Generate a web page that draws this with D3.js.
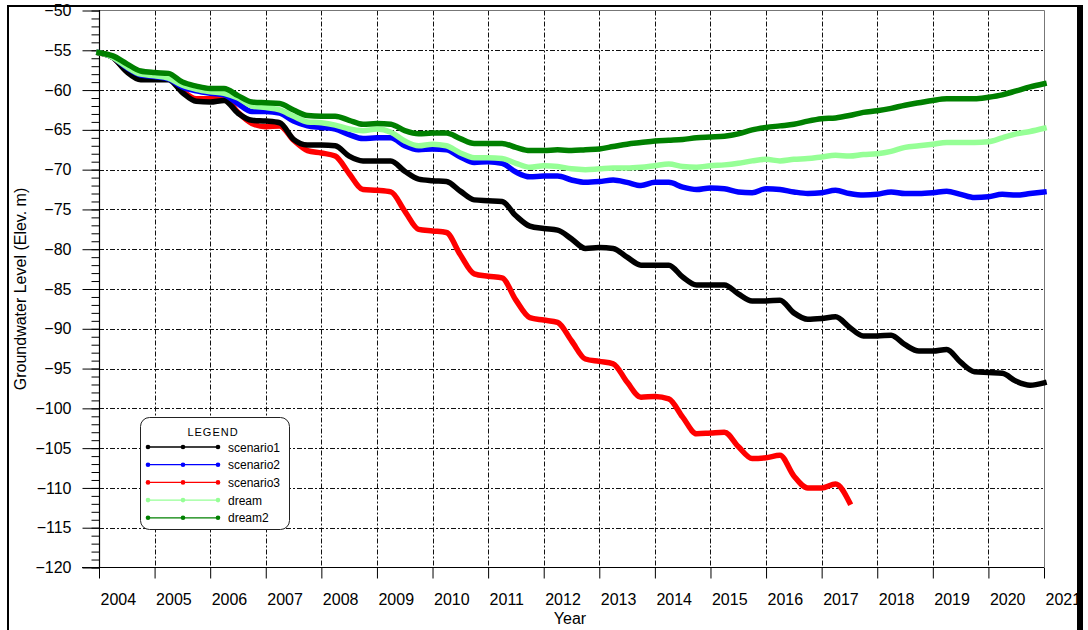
<!DOCTYPE html>
<html>
<head>
<meta charset="utf-8">
<script src="https://cdn.jsdelivr.net/npm/d3@7"></script>
<style>
  body { margin: 0; background: #fff; }
  svg { display: block; font-family: "Liberation Sans", Arial, sans-serif; }
</style>
</head>
<body>
<svg id="chart" width="1088" height="630"></svg>
<script>
// values, one point per quarter from 2004.0
var yearTicks = [2004, 2005, 2006, 2007, 2008, 2009, 2010, 2011, 2012, 2013, 2014, 2015, 2016, 2017, 2018, 2019, 2020, 2021]
var levelTicks = [-120, -115, -110, -105, -100, -95, -90, -85, -80, -75, -70, -65, -60, -55, -50]

var scenario1 = [-55.3, -55.9, -57.7, -58.7, -58.7, -58.7, -60.3, -61.4, -61.5, -61.3, -62.9, -63.8, -63.9, -64.1, -66.2, -66.9,
  -66.9, -67.0, -68.3, -68.9, -68.9, -68.9, -70.2, -71.2, -71.4, -71.5, -72.7, -73.8, -73.9, -74.0, -75.8, -77.1,
  -77.4, -77.6, -78.7, -79.9, -79.8, -79.9, -81.0, -82.0, -82.0, -82.0, -83.5, -84.5, -84.5, -84.5, -85.6, -86.5,
  -86.5, -86.4, -88.0, -88.8, -88.7, -88.5, -89.8, -90.9, -90.9, -90.8, -92.0, -92.8, -92.8, -92.6, -94.2, -95.4,
  -95.5, -95.6, -96.6, -97.1, -96.8]
var scenario2 = [-55.3, -55.9, -57.2, -58.1, -58.3, -58.6, -59.6, -60.1, -60.4, -60.6, -61.7, -62.7, -62.7, -62.9, -63.9, -64.5,
  -64.7, -64.9, -65.6, -66.1, -66.0, -66.0, -67.0, -67.5, -67.4, -67.5, -68.4, -69.1, -69.0, -69.2, -70.3, -70.9,
  -70.8, -70.8, -71.3, -71.6, -71.5, -71.3, -71.6, -72.0, -71.6, -71.6, -72.2, -72.5, -72.3, -72.4, -72.8, -72.9,
  -72.4, -72.5, -72.8, -73.0, -72.9, -72.6, -73.0, -73.2, -73.1, -72.8, -73.0, -73.0, -72.9, -72.7, -73.1, -73.5,
  -73.4, -73.1, -73.2, -73.0, -72.8]
var scenario3 = [-55.3, -55.9, -57.6, -58.6, -58.6, -58.6, -60.1, -61.1, -61.1, -60.9, -62.8, -64.2, -64.6, -64.5, -66.3, -67.6,
  -67.9, -68.3, -70.5, -72.5, -72.6, -72.8, -75.2, -77.5, -77.7, -77.9, -80.7, -83.1, -83.4, -83.6, -86.4, -88.6,
  -88.9, -89.2, -91.5, -93.8, -94.1, -94.4, -96.7, -98.6, -98.5, -98.8, -101.1, -103.2, -103.1, -103.0, -104.8, -106.3,
  -106.2, -105.9, -108.5, -110.0, -110.0, -109.5, -111.8]
var dream = [-55.3, -55.9, -57.1, -58.0, -58.2, -58.5, -59.4, -59.9, -60.2, -60.4, -61.0, -62.0, -62.2, -62.5, -63.3, -64.0,
  -64.1, -64.4, -64.9, -65.1, -64.9, -65.3, -66.4, -67.0, -66.8, -67.0, -67.9, -68.5, -68.5, -68.6, -69.2, -69.7,
  -69.5, -69.6, -69.9, -70.0, -69.9, -69.8, -69.8, -69.7, -69.5, -69.3, -69.6, -69.7, -69.5, -69.4, -69.2, -68.9,
  -68.7, -68.9, -68.7, -68.6, -68.4, -68.2, -68.3, -68.1, -68.0, -67.7, -67.2, -67.0, -66.8, -66.6, -66.6, -66.6,
  -66.5, -66.0, -65.5, -65.2, -64.8]
var dream2 = [-55.3, -55.7, -56.7, -57.6, -57.8, -57.9, -59.0, -59.5, -59.8, -59.8, -60.7, -61.5, -61.6, -61.7, -62.5, -63.2,
  -63.3, -63.3, -63.8, -64.3, -64.2, -64.3, -65.1, -65.5, -65.4, -65.4, -66.1, -66.7, -66.7, -66.7, -67.2, -67.6,
  -67.6, -67.5, -67.6, -67.5, -67.4, -67.1, -66.8, -66.6, -66.4, -66.3, -66.2, -66.0, -65.9, -65.8, -65.5, -65.0,
  -64.7, -64.5, -64.3, -63.9, -63.6, -63.5, -63.2, -62.8, -62.6, -62.3, -61.9, -61.6, -61.3, -61.1, -61.1, -61.1,
  -60.9, -60.6, -60.1, -59.6, -59.2]

var seriesNames = ['scenario1', 'scenario2', 'scenario3', 'dream', 'dream2']
var seriesColors = ['#000000', '#0000ff', '#ff0000', '#96ff96', '#008000']
var seriesValues = [scenario1, scenario2, scenario3, dream, dream2]

svg = d3.select('#chart')

x = d3.scaleLinear().domain([2004, 2021]).range([99, 1044])
y = d3.scaleLinear().domain([-120, -50]).range([567.5, 10.5])

// grid
grid = svg.append('g')
grid.selectAll('.hgrid').data(levelTicks.slice(1, -1))
  .enter().append('line')
  .attr('x1', 99).attr('x2', 1044)
  .attr('y1', function(d){ return Math.round(y(d)) + 0.5 })
  .attr('y2', function(d){ return Math.round(y(d)) + 0.5 })
  .attr('stroke', '#111').attr('stroke-width', 1)
  .attr('stroke-dasharray', '5,2,2,2')
grid.selectAll('.vgrid').data(yearTicks.slice(1, -1))
  .enter().append('line')
  .attr('y1', 10.5).attr('y2', 567)
  .attr('x1', function(d){ return Math.round(x(d)) + 0.5 })
  .attr('x2', function(d){ return Math.round(x(d)) + 0.5 })
  .attr('stroke', '#111').attr('stroke-width', 1)
  .attr('stroke-dasharray', '5,2,2,2')

// plot border top / right
svg.append('path')
  .attr('d', 'M99,10.5H1044.5V567')
  .attr('fill', 'none').attr('stroke', '#777').attr('stroke-width', 1)

// y axis: minor ticks every unit, major every 5
yAxis = svg.append('g').attr('transform', 'translate(99.5,0)')
  .call(d3.axisLeft(y).tickValues(d3.range(-120, -49, 1)).tickSize(8).tickFormat(''))
yAxis.select('.domain').remove()
yAxis.selectAll('line').attr('stroke', '#000')
yMajor = svg.append('g').attr('transform', 'translate(99.5,0)')
  .call(d3.axisLeft(y).tickValues(levelTicks).tickSize(17).tickPadding(11))
yMajor.select('.domain').remove()
yMajor.selectAll('line').attr('stroke', '#000')
yMajor.selectAll('text').style('font-size', '16px').style('font-family', '"Liberation Sans", Arial, sans-serif').attr('fill', '#000')

svg.append('line').attr('x1', 99.5).attr('x2', 99.5).attr('y1', 10).attr('y2', 568)
  .attr('stroke', '#000').attr('stroke-width', 1.2)

// x axis
xAxis = svg.append('g').attr('transform', 'translate(0,567.5)')
  .call(d3.axisBottom(x).tickValues(yearTicks).tickSize(11).tickFormat(''))
xAxis.select('.domain').remove()
xAxis.selectAll('line').attr('stroke', '#000')
svg.append('line').attr('x1', 82).attr('x2', 1044).attr('y1', 567.5).attr('y2', 567.5)
  .attr('stroke', '#000').attr('stroke-width', 1.2)

svg.selectAll('.yearLabel').data(yearTicks)
  .enter().append('text')
  .attr('x', function(d){ return x(d) + 1.5 })
  .attr('y', 605)
  .attr('text-anchor', 'start')
  .style('font-size', '16px')
  .text(function(d){ return d })

svg.append('text').attr('x', 570).attr('y', 624).attr('text-anchor', 'middle')
  .style('font-size', '16px').text('Year')
svg.append('text').attr('transform', 'translate(26,289) rotate(-90)').attr('text-anchor', 'middle')
  .style('font-size', '16px').text('Groundwater Level (Elev. m)')

// series, drawn so that the greens sit on top
line = d3.line()
  .x(function(d){ return x(d.t) })
  .y(function(d){ return y(d.v) })
  .curve(d3.curveMonotoneX)

drawOrder = [2, 0, 1, 3, 4]
for (k of drawOrder) {
  pts = seriesValues[k].map(function(v, i){ return {t: 2004 + i / 4, v: v} })
  svg.append('path').datum(pts)
    .attr('d', line)
    .attr('fill', 'none')
    .attr('stroke', seriesColors[k])
    .attr('stroke-width', 5.5)
    .attr('stroke-linejoin', 'round')
    .attr('stroke-linecap', 'square')
}

// legend
legend = svg.append('g')
legend.append('rect').attr('x', 140.5).attr('y', 417.5).attr('width', 149).attr('height', 112)
  .attr('rx', 9).attr('fill', '#fff').attr('stroke', '#222').attr('stroke-width', 1)
legend.append('text').attr('x', 213).attr('y', 436).attr('text-anchor', 'middle')
  .style('font-size', '11px').style('letter-spacing', '1px').text('LEGEND')
seriesNames.forEach(function(name, i){
  ly = 447 + i * 17.7
  legend.append('line').attr('x1', 148).attr('x2', 218).attr('y1', ly).attr('y2', ly)
    .attr('stroke', seriesColors[i]).attr('stroke-width', 1.3)
  legend.selectAll('.m' + i).data([148, 183, 218])
    .enter().append('circle')
    .attr('cx', function(d){ return d }).attr('cy', ly).attr('r', 2.3)
    .attr('fill', seriesColors[i])
  legend.append('text').attr('x', 228).attr('y', ly + 4.5)
    .style('font-size', '12px').text(name)
})

// outer frame
svg.append('rect').attr('x', 1083).attr('y', 0).attr('width', 5).attr('height', 630).attr('fill', '#fff')
svg.append('rect').attr('x', 1077).attr('y', 5).attr('width', 6).attr('height', 625).attr('fill', '#000')
svg.append('rect').attr('x', 7).attr('y', 5).attr('width', 1074).attr('height', 2).attr('fill', '#000')
svg.append('rect').attr('x', 7).attr('y', 5).attr('width', 2).attr('height', 625).attr('fill', '#000')
</script>
</body>
</html>
